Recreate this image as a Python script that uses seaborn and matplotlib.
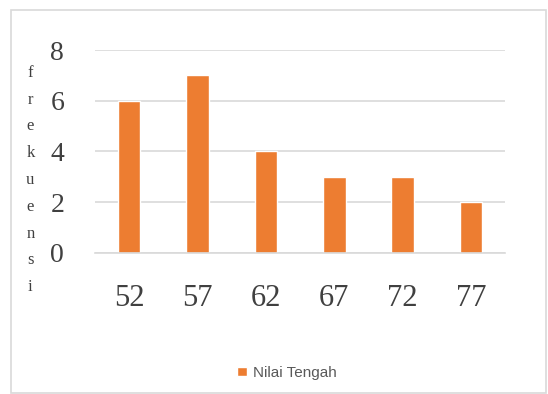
import matplotlib
matplotlib.use("Agg")
import matplotlib.pyplot as plt
import seaborn as sns
import pandas as pd
from matplotlib.patches import Rectangle

categories = ["52", "57", "62", "67", "72", "77"]
values = [6, 7, 4, 3, 3, 2]
series_name = "Nilai Tengah"
y_ticks = [0, 2, 4, 6, 8]
y_label = "frekuensi"

df = pd.DataFrame({"kelas": categories, "frekuensi": values, "seri": [series_name] * len(categories)})

sns.set_style("white")
fig = plt.figure(figsize=(5.48, 3.94), dpi=100)
ax = fig.add_axes([0.173, 0.358, 0.749, 0.515])

sns.barplot(data=df, x="kelas", y="frekuensi", hue="seri", palette=["#ED7D31"],
            width=0.33, ax=ax, legend=True, saturation=1)

ax.set_ylim(0, 8)
ax.set_yticks(y_ticks)
ax.set_xlim(-0.5, len(categories) - 0.5)
ax.yaxis.grid(True, color="#D9D9D9", linewidth=1.2)
ax.set_axisbelow(True)
for s in ["top", "right", "left"]:
    ax.spines[s].set_visible(False)
ax.spines["bottom"].set_color("#D9D9D9")
ax.spines["bottom"].set_linewidth(1.2)
ax.tick_params(axis="both", length=0)
ax.tick_params(axis="x", pad=22)
ax.tick_params(axis="y", pad=22)
for lab in ax.get_xticklabels():
    lab.set_fontfamily("Liberation Serif")
    lab.set_fontsize(22)
    lab.set_color("#404040")
for lab in ax.get_yticklabels():
    lab.set_fontfamily("Liberation Serif")
    lab.set_fontsize(20)
    lab.set_color("#404040")
ax.set_xlabel("")
ax.set_ylabel("\n".join(y_label), rotation=0, fontfamily="Liberation Serif",
              fontsize=12, color="#404040", linespacing=1.9, va="center", ha="center")
ax.yaxis.set_label_coords(-0.157, 0.36)

leg = ax.legend(loc="center", bbox_to_anchor=(287 / 548, 1 - 373 / 394),
                bbox_transform=fig.transFigure, frameon=False,
                prop={"family": "Liberation Sans", "size": 11},
                handlelength=0.6, handleheight=0.6, handletextpad=0.4)
for t in leg.get_texts():
    t.set_color("#595959")

fig.patches.append(Rectangle((11 / 548, 0.002), 1 - 11 / 548 - 0.003, 1 - 10 / 394 - 0.002,
                             transform=fig.transFigure, fill=False,
                             edgecolor="#D9D9D9", linewidth=1.2))

fig.savefig("out.png", dpi=100, facecolor="white")
